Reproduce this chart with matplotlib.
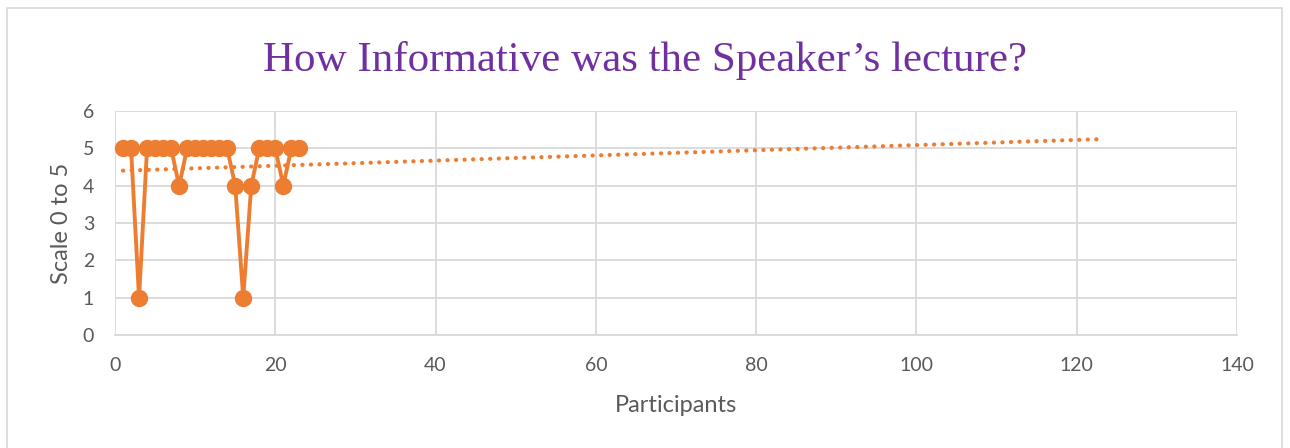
import matplotlib
matplotlib.use("Agg")
import matplotlib.pyplot as plt
import numpy as np
from matplotlib.patches import Rectangle

participants = list(range(1, 24))
scores = [5, 5, 1, 5, 5, 5, 5, 4, 5, 5, 5, 5, 5, 5, 4, 1, 4, 5, 5, 5, 4, 5, 5]
x_ticks = [0, 20, 40, 60, 80, 100, 120, 140]
y_ticks = [0, 1, 2, 3, 4, 5, 6]
title = "How Informative was the Speaker\u2019s lecture?"
x_label = "Participants"
y_label = "Scale 0 to 5"
trend_end = 122.5

W, H, DPI = 1290, 448, 100
fig = plt.figure(figsize=(W / DPI, H / DPI), dpi=DPI)
fig.patch.set_facecolor("white")
fig.patches.append(Rectangle((7 / W, -0.01), (1282 - 7) / W, 1.01 - 8 / H, transform=fig.transFigure,
                             fill=False, edgecolor="#D9D9D9", linewidth=1.2))

ax = fig.add_axes([115 / W, 1 - 335 / H, (1237 - 115) / W, (335 - 111) / H])
ax.set_xlim(0, 140)
ax.set_ylim(0, 6)
ax.set_xticks(x_ticks)
ax.set_yticks(y_ticks)
ax.grid(True, color="#D9D9D9", linewidth=1.3)
ax.set_axisbelow(True)
for s in ["top", "right", "left"]:
    ax.spines[s].set_visible(False)
ax.spines["bottom"].set_color("#D9D9D9")
ax.spines["bottom"].set_linewidth(1.3)
ax.tick_params(axis="x", length=0, labelsize=14, labelcolor="#595959", pad=16)
ax.tick_params(axis="y", length=0, labelsize=14, labelcolor="#595959", pad=15)
for lab in ax.get_xticklabels() + ax.get_yticklabels():
    lab.set_family("Lato")

ax.plot(participants, scores, color="#ED7D31", linewidth=2.8, marker="o", markersize=11.5,
        zorder=3, clip_on=False)

coef = np.polyfit(participants, scores, 1)
tx = np.array([participants[0], trend_end])
ax.plot(tx, np.polyval(coef, tx), color="#ED7D31", linewidth=3.0, linestyle=(0, (0.05, 2.0)),
        dash_capstyle="round", zorder=2)

ax.set_xlabel(x_label, fontsize=17, color="#595959", family="Lato", labelpad=15)
ax.set_ylabel(y_label, fontsize=17, color="#595959", family="Lato", labelpad=8)

fig.text(0.5, 1 - 71 / H, title, ha="center", va="baseline", fontsize=31,
         color="#7030A0", family="Liberation Serif")

fig.savefig("out.png", dpi=DPI)
